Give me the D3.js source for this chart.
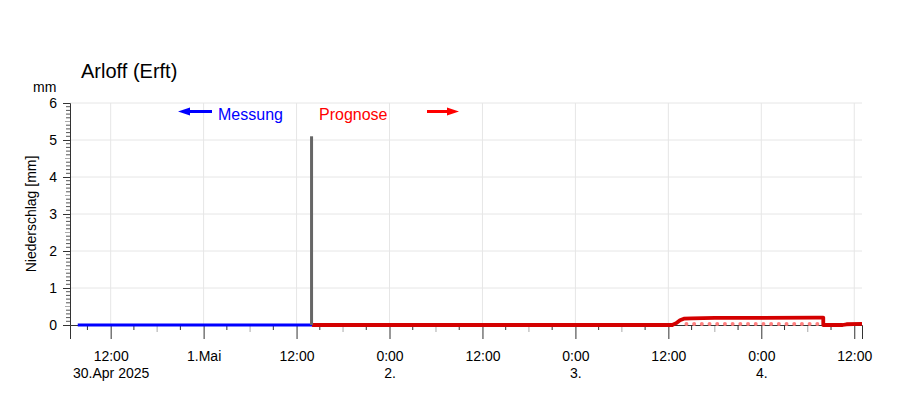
<!DOCTYPE html>
<html>
<head>
<meta charset="utf-8">
<script src="https://cdn.jsdelivr.net/npm/d3@7"></script>
<style>
  body { margin: 0; background: #fff; }
  svg text { font-family: "Liberation Sans", Arial, sans-serif; }
</style>
</head>
<body>
<div class="chart"></div>
<script>
// station title
var title = "Arloff (Erft)";

// measured precipitation (flat line) and the one measured bar
var measTimes  = ["2025-04-30 07:45", "2025-05-01 14:00"];
var measValues = [0, 0];
var barTimes   = ["2025-05-01 14:00"];
var barValues  = [5.1];

// forecast line
var progTimes  = ["2025-05-01 14:00", "2025-05-03 12:30", "2025-05-03 13:00", "2025-05-03 13:30",
                  "2025-05-03 14:00", "2025-05-03 15:00", "2025-05-03 18:00", "2025-05-04 07:00",
                  "2025-05-04 08:00", "2025-05-04 08:00", "2025-05-04 10:30", "2025-05-04 11:00",
                  "2025-05-04 13:00"];
var progValues = [0, 0, 0.05, 0.13, 0.17, 0.18, 0.19, 0.2, 0.2, 0, 0, 0.02, 0.03];

// lower forecast band (dotted)
var lowTimes   = ["2025-05-03 14:20", "2025-05-04 07:30"];
var lowValues  = [0, 0];

// axis labels
var xTickTimes = ["2025-04-30 12:00", "2025-05-01 00:00", "2025-05-01 12:00", "2025-05-02 00:00",
                  "2025-05-02 12:00", "2025-05-03 00:00", "2025-05-03 12:00", "2025-05-04 00:00",
                  "2025-05-04 12:00"];
var xLine1 = ["12:00", "1.Mai", "12:00", "0:00", "12:00", "0:00", "12:00", "0:00", "12:00"];
var xLine2 = ["30.Apr 2025", "", "", "2.", "", "3.", "", "4.", ""];
var yTicks = [0, 1, 2, 3, 4, 5, 6];

var parse = d3.timeParse("%Y-%m-%d %H:%M");

var svg = d3.select(".chart").append("svg").attr("width", 900).attr("height", 396),
    margin = {top: 103, right: 38, bottom: 71, left: 70},
    width  = +svg.attr("width")  - margin.left - margin.right,
    height = +svg.attr("height") - margin.top  - margin.bottom;

var x = d3.scaleTime()
    .domain([parse("2025-04-30 06:45"), parse("2025-05-04 13:00")])
    .range([0, width]);
var y = d3.scaleLinear().domain([0, 6]).range([height, 0]);

var g = svg.append("g").attr("transform", `translate(${margin.left},${margin.top})`);

svg.append("defs").append("clipPath").attr("id", "plot")
  .append("rect").attr("width", width).attr("height", height + 4).attr("y", -2);

// grid
g.append("g").selectAll("line").data(yTicks.slice(1)).enter().append("line")
    .attr("x1", 0).attr("x2", width)
    .attr("y1", d => y(d)).attr("y2", d => y(d))
    .attr("stroke", "#e6e6e6");
g.append("g").selectAll("line").data(xTickTimes).enter().append("line")
    .attr("x1", d => x(parse(d))).attr("x2", d => x(parse(d)))
    .attr("y1", 0).attr("y2", height)
    .attr("stroke", "#e6e6e6");

// x axis minor ticks (3h dark, 6h grey)
var minor = d3.timeHour.every(3).range(x.domain()[0], x.domain()[1]);
g.append("g").selectAll("line").data(minor.filter(d => d.getHours() % 12 != 0)).enter().append("line")
    .attr("x1", d => x(d)).attr("x2", d => x(d))
    .attr("y1", height)
    .attr("y2", d => d.getHours() % 6 == 0 ? height + 7 : height + 5)
    .attr("stroke", d => d.getHours() % 6 == 0 ? "#aaa" : "#333");

// x axis major ticks + labels
var xa = g.append("g").attr("class", "axis axis-x")
    .attr("transform", `translate(0,${height})`)
    .call(d3.axisBottom(x).tickValues(xTickTimes.map(parse)).tickSize(14).tickFormat(""));
xa.select(".domain").attr("stroke", "#333");
xa.selectAll(".tick line").attr("stroke", "#333");
xa.selectAll(".tick").append("text")
    .attr("fill", "#000").attr("y", 36).attr("font-size", 14).attr("text-anchor", "middle")
    .text((d, i) => xLine1[i]);
xa.selectAll(".tick").append("text")
    .attr("fill", "#000").attr("y", 53).attr("font-size", 14).attr("text-anchor", "middle")
    .text((d, i) => xLine2[i]);

// y axis minor ticks
var yMinor = d3.range(1, 60).filter(d => d % 10 != 0).map(d => d / 10);
g.append("g").selectAll("line").data(yMinor).enter().append("line")
    .attr("x1", d => Math.round(d * 10) % 5 == 0 ? -5 : -4).attr("x2", 0)
    .attr("y1", d => y(d)).attr("y2", d => y(d))
    .attr("stroke", d => Math.round(d * 10) % 5 == 0 ? "#aaa" : "#555");

var ya = g.append("g").attr("class", "axis axis-y")
    .call(d3.axisLeft(y).tickValues(yTicks).tickFormat(d3.format("d")).tickSize(7).tickPadding(6));
ya.select(".domain").attr("stroke", "#333");
ya.selectAll(".tick line").attr("stroke", "#333");
ya.selectAll(".tick text").attr("font-size", 14).attr("fill", "#000");

// series
var plot = g.append("g").attr("clip-path", "url(#plot)");

var line = d3.line().x(d => x(d[0])).y(d => y(d[1]));

plot.append("path")
    .datum(lowTimes.map((t, i) => [parse(t), lowValues[i]]))
    .attr("d", line).attr("fill", "none")
    .attr("stroke", "#ff8080").attr("stroke-width", 4)
    .attr("stroke-linecap", "round").attr("stroke-dasharray", "0,7.7")
    .attr("transform", "translate(0,-1)");

plot.append("path")
    .datum(measTimes.map((t, i) => [parse(t), measValues[i]]))
    .attr("d", line).attr("fill", "none")
    .attr("stroke", "#0000ff").attr("stroke-width", 3);

plot.append("path")
    .datum(progTimes.map((t, i) => [parse(t), progValues[i]]))
    .attr("d", line).attr("fill", "none")
    .attr("stroke", "#d40000").attr("stroke-width", 3.8)
    .attr("stroke-linejoin", "round");

plot.selectAll(".bar").data(barTimes).enter().append("rect")
    .attr("class", "bar")
    .attr("x", d => x(parse(d)) - 2)
    .attr("y", (d, i) => y(barValues[i]))
    .attr("width", 3)
    .attr("height", (d, i) => height - y(barValues[i]))
    .attr("fill", "#666");

// texts
svg.append("text").attr("x", 81).attr("y", 78).attr("font-size", 20).text(title);
svg.append("text").attr("x", 33).attr("y", 92).attr("font-size", 14).text("mm");
svg.append("text").attr("transform", "translate(36,214) rotate(-90)")
    .attr("text-anchor", "middle").attr("font-size", 14).text("Niederschlag [mm]");

// legend arrows
svg.append("line").attr("x1", 186).attr("x2", 212).attr("y1", 111.5).attr("y2", 111.5)
    .attr("stroke", "#0000ff").attr("stroke-width", 3);
svg.append("path").attr("d", "M178,111.5 L190,107.5 L190,115.5 Z").attr("fill", "#0000ff");
svg.append("text").attr("x", 218).attr("y", 120).attr("font-size", 16).attr("fill", "#0000ff").text("Messung");

svg.append("text").attr("x", 319).attr("y", 120).attr("font-size", 16).attr("fill", "#ff0000").text("Prognose");
svg.append("line").attr("x1", 427).attr("x2", 451).attr("y1", 111.5).attr("y2", 111.5)
    .attr("stroke", "#ff0000").attr("stroke-width", 3);
svg.append("path").attr("d", "M459,111.5 L447,107.5 L447,115.5 Z").attr("fill", "#ff0000");
</script>
</body>
</html>
